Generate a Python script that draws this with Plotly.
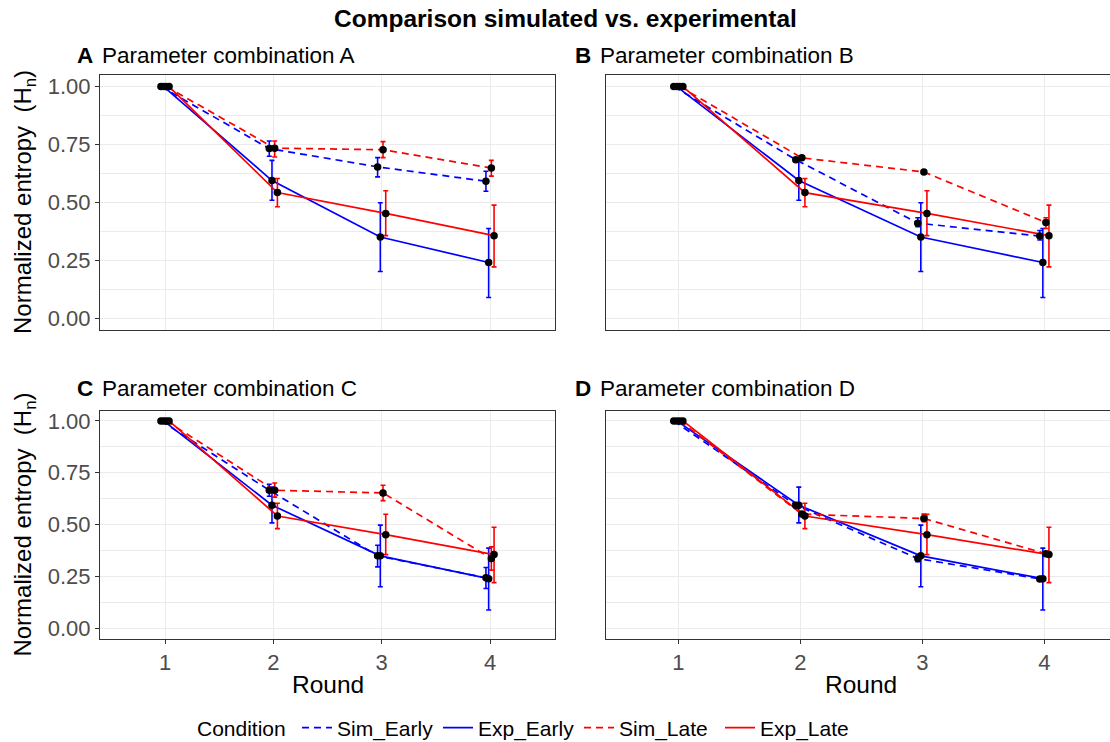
import plotly.graph_objects as go

# ---- data -----------------------------------------------------------------
rounds = [1, 2, 3, 4]
conditions = ["Sim_Early", "Exp_Early", "Sim_Late", "Exp_Late"]
panel_tags = ["A", "B", "C", "D"]
panel_titles = ["Parameter combination A", "Parameter combination B",
                "Parameter combination C", "Parameter combination D"]

# experimental means and error-bar limits (shared by all panels)
exp_early = [1.0, 0.594, 0.350, 0.240]
exp_early_lo = [1.0, 0.509, 0.201, 0.089]
exp_early_hi = [1.0, 0.681, 0.498, 0.387]
exp_late = [1.0, 0.542, 0.452, 0.356]
exp_late_lo = [1.0, 0.481, 0.356, 0.221]
exp_late_hi = [1.0, 0.603, 0.550, 0.488]

# simulated means and error-bar limits, one set per parameter combination
sim_early_A = [1.0, 0.732, 0.653, 0.591]
sim_early_A_lo = [1.0, 0.699, 0.610, 0.548]
sim_early_A_hi = [1.0, 0.765, 0.693, 0.634]
sim_late_A = [1.0, 0.734, 0.727, 0.648]
sim_late_A_lo = [1.0, 0.696, 0.693, 0.613]
sim_late_A_hi = [1.0, 0.765, 0.762, 0.681]

sim_early_B = [1.0, 0.684, 0.410, 0.354]
sim_early_B_lo = [1.0, 0.676, 0.395, 0.337]
sim_early_B_hi = [1.0, 0.692, 0.433, 0.378]
sim_late_B = [1.0, 0.692, 0.631, 0.413]
sim_late_B_lo = [1.0, 0.686, 0.625, 0.387]
sim_late_B_hi = [1.0, 0.698, 0.637, 0.433]

sim_early_C = [1.0, 0.666, 0.350, 0.244]
sim_early_C_lo = [1.0, 0.637, 0.297, 0.193]
sim_early_C_hi = [1.0, 0.695, 0.401, 0.294]
sim_late_C = [1.0, 0.666, 0.653, 0.337]
sim_late_C_lo = [1.0, 0.633, 0.616, 0.281]
sim_late_C_hi = [1.0, 0.701, 0.690, 0.393]

sim_early_D = [1.0, 0.594, 0.337, 0.239]
sim_early_D_lo = [1.0, 0.582, 0.322, 0.229]
sim_early_D_hi = [1.0, 0.606, 0.352, 0.249]
sim_late_D = [1.0, 0.551, 0.530, 0.360]
sim_late_D_lo = [1.0, 0.543, 0.514, 0.352]
sim_late_D_hi = [1.0, 0.559, 0.551, 0.368]

y_ticks = [0.0, 0.25, 0.5, 0.75, 1.0]
y_minor = [0.125, 0.375, 0.625, 0.875]

panels = {
    "A": {"Sim_Early": (sim_early_A, sim_early_A_lo, sim_early_A_hi),
          "Exp_Early": (exp_early, exp_early_lo, exp_early_hi),
          "Sim_Late": (sim_late_A, sim_late_A_lo, sim_late_A_hi),
          "Exp_Late": (exp_late, exp_late_lo, exp_late_hi)},
    "B": {"Sim_Early": (sim_early_B, sim_early_B_lo, sim_early_B_hi),
          "Exp_Early": (exp_early, exp_early_lo, exp_early_hi),
          "Sim_Late": (sim_late_B, sim_late_B_lo, sim_late_B_hi),
          "Exp_Late": (exp_late, exp_late_lo, exp_late_hi)},
    "C": {"Sim_Early": (sim_early_C, sim_early_C_lo, sim_early_C_hi),
          "Exp_Early": (exp_early, exp_early_lo, exp_early_hi),
          "Sim_Late": (sim_late_C, sim_late_C_lo, sim_late_C_hi),
          "Exp_Late": (exp_late, exp_late_lo, exp_late_hi)},
    "D": {"Sim_Early": (sim_early_D, sim_early_D_lo, sim_early_D_hi),
          "Exp_Early": (exp_early, exp_early_lo, exp_early_hi),
          "Sim_Late": (sim_late_D, sim_late_D_lo, sim_late_D_hi),
          "Exp_Late": (exp_late, exp_late_lo, exp_late_hi)},
}

# ---- styling --------------------------------------------------------------
W, H = 1110, 742
FONT = "Liberation Sans, Arial, Helvetica, sans-serif"
colors = {"Sim_Early": "#0000FF", "Exp_Early": "#0000FF",
          "Sim_Late": "#FF0000", "Exp_Late": "#FF0000"}
dashes = {"Sim_Early": "7px,5px", "Exp_Early": "solid",
          "Sim_Late": "7px,5px", "Exp_Late": "solid"}
dodge = {"Sim_Early": -0.0375, "Exp_Early": -0.0125,
         "Sim_Late": 0.0125, "Exp_Late": 0.0375}

# panel boxes in pixels: (left, right, top, bottom)
boxes = {"A": (100, 555, 75, 329.6), "B": (605.5, 1110, 75, 329.6),
         "C": (100, 555, 410.5, 638.9), "D": (605.5, 1110, 410.5, 638.9)}
x_ranges = {"A": [0.4, 4.6], "B": [0.403, 4.538],
            "C": [0.4, 4.6], "D": [0.403, 4.538]}
LEGEND_Y = 728


def px(x):
    return x / W


def py(y):
    return 1 - y / H


fig = go.Figure()
layout = {}

for i, tag in enumerate(panel_tags):
    n = "" if i == 0 else str(i + 1)
    xa, ya = "x" + n, "y" + n
    left, right, top, bottom = boxes[tag]
    is_bottom = tag in ("C", "D")
    is_left = tag in ("A", "C")

    for cond in conditions:
        mean, lo, hi = panels[tag][cond]
        xs = [r + dodge[cond] for r in rounds]
        fig.add_trace(go.Scatter(
            x=xs, y=mean, mode="lines", name=cond,
            legendgroup=cond, showlegend=(tag == "A"),
            line=dict(color=colors[cond], width=1.7, dash=dashes[cond]),
            error_y=dict(type="data", symmetric=False,
                         array=[h - m for h, m in zip(hi, mean)],
                         arrayminus=[m - l for m, l in zip(mean, lo)],
                         color=colors[cond], thickness=1.6, width=2.5),
            xaxis=xa, yaxis=ya, hoverinfo="skip"))

    # black points on top of every line and error bar
    pts_x, pts_y = [], []
    for cond in conditions:
        mean = panels[tag][cond][0]
        pts_x += [r + dodge[cond] for r in rounds]
        pts_y += list(mean)
    fig.add_trace(go.Scatter(
        x=pts_x, y=pts_y, mode="markers", showlegend=False,
        marker=dict(color="black", size=7.5),
        xaxis=xa, yaxis=ya, hoverinfo="skip"))

    layout["xaxis" + n] = dict(
        domain=[px(left), px(right)], anchor=ya, range=x_ranges[tag],
        tickvals=rounds, showticklabels=is_bottom, automargin=False,
        ticks="outside" if is_bottom else "", ticklen=4,
        tickcolor="#333333", tickwidth=1.1,
        tickfont=dict(family=FONT, size=22, color="#4D4D4D"),
        showgrid=True, gridcolor="#EBEBEB", gridwidth=1.1, zeroline=False,
        showline=True, linecolor="#333333", linewidth=1.1, mirror=True)
    layout["yaxis" + n] = dict(
        domain=[py(bottom), py(top)], anchor=xa, range=[-0.05, 1.05],
        tickvals=y_ticks, tickformat=".2f", showticklabels=is_left,
        automargin=False,
        ticks="outside" if is_left else "", ticklen=4,
        tickcolor="#333333", tickwidth=1.1,
        tickfont=dict(family=FONT, size=22, color="#4D4D4D"),
        showgrid=True, gridcolor="#EBEBEB", gridwidth=1.1, zeroline=False,
        minor=dict(tickvals=y_minor, showgrid=True, gridcolor="#EBEBEB",
                   gridwidth=0.6),
        showline=True, linecolor="#333333", linewidth=1.1, mirror=is_left)

annotations = [
    dict(text="<b>Comparison simulated vs. experimental</b>",
         x=px(565), y=py(19), xref="paper", yref="paper",
         xanchor="center", yanchor="middle", showarrow=False,
         font=dict(family=FONT, size=24.5, color="black")),
    dict(text="Condition", x=px(195), y=py(LEGEND_Y), xref="paper",
         yref="paper", xanchor="left", yanchor="middle", showarrow=False,
         font=dict(family=FONT, size=21, color="black")),
]
title_pos = {"A": (75, 56), "B": (573, 56), "C": (75, 388), "D": (573, 388)}
for tag, title in zip(panel_tags, panel_titles):
    tx, ty = title_pos[tag]
    annotations.append(dict(
        text="<b>%s</b>" % tag, x=px(tx), y=py(ty), xref="paper", yref="paper",
        xanchor="left", yanchor="middle", showarrow=False,
        font=dict(family=FONT, size=22.5, color="black")))
    annotations.append(dict(
        text=title, x=px(tx + 25), y=py(ty), xref="paper", yref="paper",
        xanchor="left", yanchor="middle", showarrow=False,
        font=dict(family=FONT, size=22.5, color="black")))

for yc in (202, 524.6):
    annotations.append(dict(
        text="Normalized entropy  (H<sub>n</sub>)", textangle=-90,
        x=px(25), y=py(yc), xref="paper", yref="paper",
        xanchor="center", yanchor="middle", showarrow=False,
        font=dict(family=FONT, size=24, color="black")))
for xc in (327.5, 861):
    annotations.append(dict(
        text="Round", x=px(xc), y=py(684), xref="paper", yref="paper",
        xanchor="center", yanchor="middle", showarrow=False,
        font=dict(family=FONT, size=24.5, color="black")))

fig.update_layout(
    width=W, height=H,
    margin=dict(l=0, r=0, t=0, b=0, autoexpand=False),
    paper_bgcolor="white", plot_bgcolor="white",
    font=dict(family=FONT, color="black"),
    annotations=annotations,
    legend=dict(orientation="h", x=px(297), xanchor="left",
                y=py(LEGEND_Y), yanchor="middle",
                font=dict(family=FONT, size=21), itemwidth=30,
                entrywidth=96, bgcolor="rgba(0,0,0,0)"),
    **layout)

fig.write_html("out.html")
